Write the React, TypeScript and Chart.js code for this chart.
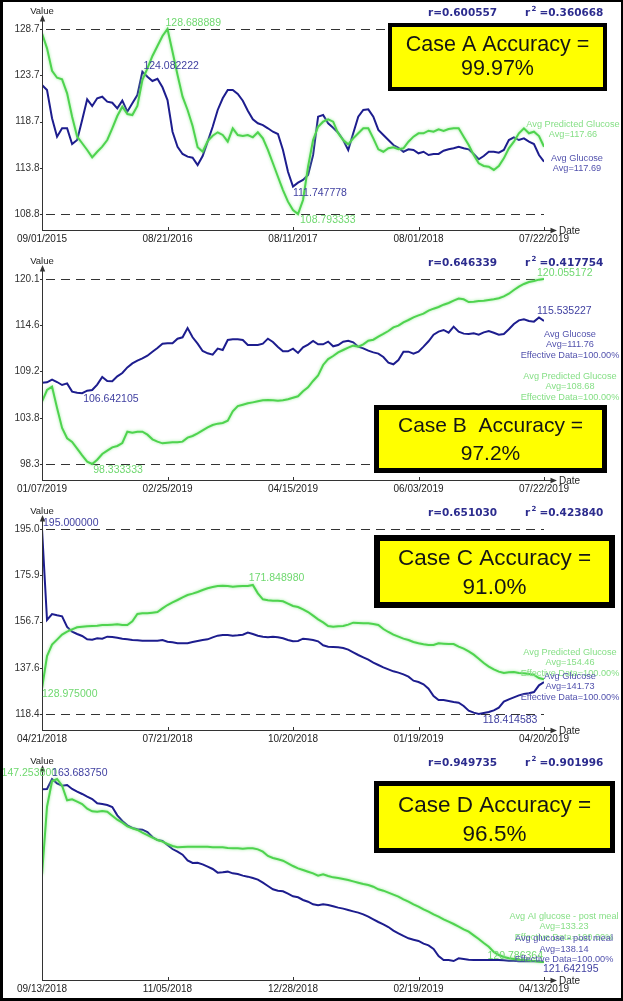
import React, { useEffect, useRef } from 'react';
import { Chart, registerables } from 'chart.js';

Chart.register(...registerables);
Chart.defaults.font.family = '"Liberation Sans", Arial, Helvetica, sans-serif';

// ---------------- DATA ----------------
const A_DATES = ['09/01/2015', '08/21/2016', '08/11/2017', '08/01/2018', '07/22/2019'];
const A_GLUCOSE = [
  122.67, 122.13, 119.09, 117.11, 118.01, 118.01, 116.32, 116.75, 118.9, 121.13,
  120.41, 121.24, 121.41, 120.87, 120.76, 120.16, 120.98, 119.8, 120.7, 121.59,
  124.082222, 123.56, 123.1, 123.34, 122.42, 121.05, 117.64, 116.03, 115.25, 114.96,
  114.85, 114.06, 115.03, 116.57, 118.18, 119.98, 121.24, 122.13, 122.13, 121.7,
  120.98, 119.9, 118.98, 118.55, 118.36, 118.01, 117.64, 117.4, 115.68, 113.34,
  111.747778, 112.16, 112.45, 112.99, 115.14, 119.26, 119.44, 118.55, 118.07, 117.54,
  116.75, 115.68, 117.47, 119.26, 119.98, 120.05, 119.26, 117.83, 117.29, 116.75,
  116.21, 115.92, 115.49, 115.75, 115.68, 115.32, 115.49, 115.14, 115.25, 115.25,
  115.6, 115.75, 115.86, 116.03, 115.86, 115.75, 115.25, 114.68, 115.03, 115.49,
  115.49, 115.39, 115.68, 116.75, 117.04, 116.75, 116.93, 116.57, 116.32, 115.14,
  114.42,
];
const A_PREDICTED = [
  128.23, 126.61, 124.2, 123.45, 123.28, 121.77, 119.26, 117.11, 116.4, 115.68,
  114.89, 115.49, 116.03, 116.75, 118.01, 119.33, 120.33, 119.55, 119.44, 120.41,
  123.2, 124.46, 125.79, 126.86, 127.94, 128.688889, 126.25, 123.74, 121.41, 119.98,
  118.26, 115.97, 115.49, 116.64, 117.21, 117.58, 117.29, 116.57, 118.01, 117.29,
  117.18, 117.29, 117.04, 117.58, 116.93, 115.68, 114.25, 112.8, 111.37, 110.12,
  109.22, 108.793333, 110.3, 113.88, 116.75, 118.18, 118.72, 118.98, 118.72, 117.47,
  116.75, 116.29, 116.93, 117.47, 118.01, 118.01, 116.93, 115.75, 115.49, 115.86,
  115.97, 115.75, 115.86, 116.57, 117.11, 117.47, 117.47, 117.75, 117.64, 117.9,
  117.72, 117.93, 118.01, 118.01, 117.11, 116.21, 115.14, 114.25, 113.96, 113.88,
  113.53, 113.96, 114.78, 115.86, 116.57, 117.47, 118.01, 117.47, 117.64, 117.18,
  116.03,
];
const A_STATS = ['0.600557', '0.360668'];
const A_CASE = ['Case A Accuracy =', '99.97%'];
const A_GLUCOSE_NOTE = ['Avg Glucose', 'Avg=117.69'];
const A_PREDICTED_NOTE = ['Avg Predicted Glucose', 'Avg=117.66'];

const B_DATES = ['01/07/2019', '02/25/2019', '04/15/2019', '06/03/2019', '07/22/2019'];
const B_GLUCOSE = [
  107.88, 107.92, 108.24, 107.96, 107.61, 107.8, 106.83, 106.71, 106.642105, 106.94,
  107.02, 107.65, 108.55, 108.08, 108.04, 108.63, 109.02, 109.68, 110.15, 110.47,
  110.74, 111.05, 111.52, 111.95, 112.46, 112.5, 112.5, 113.05, 113.21, 114.3,
  113.21, 112.46, 111.6, 111.33, 111.17, 111.88, 111.72, 112.89, 112.97, 112.97,
  112.89, 112.31, 112.31, 112.31, 112.46, 113.05, 112.66, 112.07, 111.56, 111.56,
  111.88, 111.37, 112.03, 112.35, 112.78, 112.38, 112.38, 112.7, 112.15, 112.31,
  112.7, 112.81, 112.62, 112.11, 111.91, 111.64, 111.44, 111.29, 110.9, 110.23,
  110.04, 110.54, 111.52, 111.52, 111.29, 111.52, 112.11, 112.74, 113.52, 113.87,
  114.07, 113.75, 114.46, 113.87, 113.64, 113.6, 113.68, 113.52, 113.79, 113.95,
  113.75, 113.52, 113.6, 114.15, 114.77, 115.2, 115.32, 115.12, 115.05, 115.535227,
  115.12,
];
const B_PREDICTED = [
  105.65, 107.02, 107.41, 104.91, 102.56, 101.35, 100.92, 100.13, 99.35, 98.61,
  98.333333, 98.84, 99.51, 99.9, 100.29, 100.45, 100.8, 102.13, 102.01, 102.13,
  102.13, 101.78, 101.23, 100.96, 100.76, 100.84, 100.88, 100.88, 100.96, 101.43,
  101.62, 101.93, 102.29, 102.64, 102.91, 103.07, 103.15, 103.42, 104.52, 105.14,
  105.3, 105.46, 105.57, 105.69, 105.81, 105.85, 105.81, 105.77, 105.81, 105.93,
  106.12, 106.28, 106.87, 107.34, 108.08, 108.74, 109.96, 110.66, 111.01, 111.44,
  111.72, 111.99, 112.23, 112.11, 112.38, 112.81, 112.93, 113.28, 113.6, 113.95,
  114.38, 114.58, 114.97, 115.24, 115.55, 115.79, 115.98, 116.34, 116.57, 116.77,
  117.04, 117.24, 117.51, 117.75, 117.67, 117.35, 117.39, 117.47, 117.51, 117.59,
  117.67, 117.79, 118.02, 118.33, 118.76, 119.16, 119.47, 119.7, 119.82, 119.98,
  120.055172,
];
const B_STATS = ['0.646339', '0.417754'];
const B_CASE = ['Case B  Accuracy =', '97.2%'];
const B_GLUCOSE_NOTE = ['Avg Glucose', 'Avg=111.76', 'Effective Data=100.00%'];
const B_PREDICTED_NOTE = ['Avg Predicted Glucose', 'Avg=108.68', 'Effective Data=100.00%'];

const C_DATES = ['04/21/2018', '07/21/2018', '10/20/2018', '01/19/2019', '04/20/2019'];
const C_GLUCOSE = [
  195.0, 157.33, 159.81, 159.26, 158.85, 154.43, 152.5, 151.53, 150.71, 149.33,
  149.19, 149.74, 149.6, 150.43, 150.29, 150.02, 149.6, 149.33, 149.05, 148.91,
  148.77, 148.77, 148.77, 148.77, 149.05, 148.36, 148.08, 147.67, 147.67, 147.67,
  148.22, 148.64, 149.05, 149.33, 150.15, 150.84, 151.12, 151.12, 150.84, 150.98,
  151.26, 152.09, 151.53, 150.84, 150.43, 150.15, 150.43, 150.15, 149.74, 149.05,
  148.5, 148.64, 149.6, 149.33, 149.05, 148.5, 146.84, 146.29, 146.15, 146.01,
  145.74, 145.05, 143.94, 142.84, 141.87, 140.91, 139.67, 138.7, 137.73, 136.91,
  136.08, 135.53, 134.84, 133.87, 132.21, 131.66, 130.7, 128.9, 125.87, 124.21,
  124.21, 123.8, 123.38, 123.11, 121.73, 119.8, 118.97, 118.414583, 118.83, 119.24,
  119.93, 121.04, 123.52, 124.49, 125.32, 126.14, 126.7, 126.97, 127.52, 130.28,
  131.66,
];
const C_PREDICTED = [
  128.975, 142.43, 147.12, 149.19, 151.26, 152.5, 153.47, 154.29, 154.57, 154.71,
  154.85, 154.98, 155.26, 155.26, 155.4, 155.54, 155.26, 155.26, 156.78, 159.81,
  160.09, 160.09, 160.36, 160.64, 162.16, 163.54, 164.64, 165.61, 166.71, 167.68,
  168.23, 168.92, 169.75, 170.44, 170.99, 171.4, 171.54, 171.4, 171.13, 171.27,
  171.4, 171.4, 171.84898, 168.37, 165.88, 165.47, 165.33, 165.33, 165.06, 164.09,
  163.12, 162.71, 161.74, 160.64, 159.12, 157.6, 156.36, 154.85, 154.57, 154.71,
  154.85, 155.4, 156.22, 156.09, 155.95, 155.95, 155.67, 155.26, 153.6, 152.36,
  151.26, 150.43, 149.6, 149.05, 148.22, 147.67, 147.26, 146.98, 146.98, 147.67,
  147.53, 147.39, 147.39, 146.29, 145.46, 144.36, 142.98, 141.32, 139.53, 138.01,
  136.91, 135.94, 135.39, 135.66, 135.8, 135.39, 135.25, 134.97, 134.56, 133.32,
  132.77,
];
const C_STATS = ['0.651030', '0.423840'];
const C_CASE = ['Case C Accuracy =', '91.0%'];
const C_GLUCOSE_NOTE = ['Avg Glucose', 'Avg=141.73', 'Effective Data=100.00%'];
const C_PREDICTED_NOTE = ['Avg Predicted Glucose', 'Avg=154.46', 'Effective Data=100.00%'];

const D_DATES = ['09/13/2018', '11/05/2018', '12/28/2018', '02/19/2019', '04/13/2019'];
const D_GLUCOSE = [
  161.31, 161.39, 163.68375, 162.69, 162.15, 162.31, 161.39, 160.77, 160.24, 159.63,
  159.09, 158.09, 157.94, 157.71, 157.25, 155.34, 154.04, 153.04, 152.43, 152.12,
  152.04, 151.51, 150.36, 149.67, 149.44, 148.52, 147.6, 146.99, 146.3, 145.0,
  144.39, 144.46, 144.08, 143.54, 143.01, 142.17, 142.24, 142.4, 142.01, 141.86,
  141.48, 141.25, 140.94, 140.56, 139.87, 139.1, 138.34, 138.03, 137.88, 137.34,
  136.73, 136.5, 135.89, 135.5, 134.89, 134.66, 134.89, 134.74, 134.43, 134.13,
  133.9, 133.59, 133.28, 132.98, 132.59, 132.06, 131.44, 130.83, 130.3, 129.68,
  128.84, 128.23, 127.62, 127.08, 126.77, 126.47, 125.85, 125.47, 124.63, 123.02,
  122.1, 122.1, 121.87, 122.49, 122.33, 122.18, 122.1, 122.1, 122.1, 122.1,
  122.1, 122.1, 122.03, 121.95, 121.95, 121.8, 121.8, 121.8, 121.8, 121.8,
  121.642195,
];
const D_PREDICTED = [
  133.37, 143.25, 146.92, 147.2538, 146.29, 144.17, 144.31, 143.98, 143.64, 142.96,
  142.58, 142.53, 142.63, 142.53, 141.95, 141.37, 140.94, 140.41, 140.12, 139.88,
  139.49, 139.15, 138.77, 138.43, 138.19, 137.85, 137.56, 137.37, 137.42, 137.47,
  137.47, 137.47, 137.47, 137.47, 137.37, 137.37, 137.37, 137.27, 137.23, 137.23,
  137.18, 137.23, 137.23, 137.08, 136.74, 136.12, 135.83, 135.64, 135.44, 135.06,
  134.67, 134.33, 134.09, 133.85, 133.61, 133.27, 133.47, 133.23, 133.03, 132.94,
  132.79, 132.65, 132.45, 132.26, 132.07, 131.92, 131.68, 131.3, 131.1, 130.81,
  130.53, 130.24, 129.85, 129.51, 129.13, 128.79, 128.4, 128.07, 127.68, 127.34,
  126.96, 126.62, 126.28, 125.9, 125.51, 125.17, 124.64, 124.11, 123.53, 123.0,
  122.23, 121.8, 121.51, 121.32, 121.22, 121.12, 121.08, 120.98, 120.93, 120.83,
  120.786364,
];
const D_STATS = ['0.949735', '0.901996'];
const D_CASE = ['Case D Accuracy =', '96.5%'];
const D_GLUCOSE_NOTE = ['Avg glucose - post meal', 'Avg=138.14', 'Effective Data=100.00%'];
const D_PREDICTED_NOTE = ['Avg AI glucose - post meal', 'Avg=133.23', 'Effective Data=100.00%'];

// ---------------- STYLE / LAYOUT ----------------
const BLUE = '#1d1d8e';
const GREEN = '#4fd34f';
const GREEN_GLOW = 'rgba(140,235,140,0.9)';
const BLUE_TEXT = '#3f3fa0';
const GREEN_TEXT = '#6fd86f';
const NOTE_BLUE = '#5252ad';
const NOTE_GREEN = '#86df86';
const STAT_COLOR = '#2c2c8e';
const AXIS = '#333333';
const SANS = '"Liberation Sans", Arial, Helvetica, sans-serif';
const W = 623;
const AREA_TOP = 20;
const AREA_BOTTOM = 230;
const AREA_LEFT = 42;
const AREA_RIGHT = 544;

type Lbl = { kind: 'max' | 'min'; align: CanvasTextAlign; dx: number; dy: number };
type Note = { lines: string[]; cx: number; y: number };
type Box = { x: number; y: number; w: number; h: number; border: number; font: number; text: string[]; ly: number[] };
type Panel = {
  id: string;
  top: number;
  height: number;
  dates: string[];
  glucose: number[];
  predicted: number[];
  separate: boolean;
  maxPx: number;
  minPx: number;
  glucoseLabels: Lbl[];
  predictedLabels: Lbl[];
  glucoseNote: Note;
  predictedNote: Note;
  stats: string[];
  box: Box;
};

const PANELS: Panel[] = [
  {
    id: 'A', top: 0, height: 250, dates: A_DATES, glucose: A_GLUCOSE, predicted: A_PREDICTED,
    separate: false, maxPx: 29, minPx: 214,
    glucoseLabels: [
      { kind: 'max', align: 'left', dx: 1, dy: -5.5 },
      { kind: 'min', align: 'left', dx: 0, dy: 7 },
    ],
    predictedLabels: [
      { kind: 'max', align: 'left', dx: -2, dy: -5.5 },
      { kind: 'min', align: 'left', dx: 2, dy: 6 },
    ],
    glucoseNote: { lines: A_GLUCOSE_NOTE, cx: 577, y: 158 },
    predictedNote: { lines: A_PREDICTED_NOTE, cx: 573, y: 124 },
    stats: A_STATS,
    box: { x: 388, y: 23, w: 219, h: 68, border: 4, font: 21.5, text: A_CASE, ly: [45.5, 69.5] },
  },
  {
    id: 'B', top: 250, height: 250, dates: B_DATES, glucose: B_GLUCOSE, predicted: B_PREDICTED,
    separate: false, maxPx: 29, minPx: 214,
    glucoseLabels: [
      { kind: 'max', align: 'left', dx: -2, dy: -6 },
      { kind: 'min', align: 'left', dx: 1, dy: 6 },
    ],
    predictedLabels: [
      { kind: 'max', align: 'left', dx: -7, dy: -6 },
      { kind: 'min', align: 'left', dx: 1, dy: 6 },
    ],
    glucoseNote: { lines: B_GLUCOSE_NOTE, cx: 570, y: 84 },
    predictedNote: { lines: B_PREDICTED_NOTE, cx: 570, y: 126 },
    stats: B_STATS,
    box: { x: 374, y: 155, w: 233, h: 68, border: 5, font: 21, text: B_CASE, ly: [176.5, 204.5] },
  },
  {
    id: 'C', top: 500, height: 250, dates: C_DATES, glucose: C_GLUCOSE, predicted: C_PREDICTED,
    separate: false, maxPx: 29, minPx: 214,
    glucoseLabels: [
      { kind: 'max', align: 'left', dx: 1, dy: -6 },
      { kind: 'min', align: 'left', dx: 4, dy: 6 },
    ],
    predictedLabels: [
      { kind: 'max', align: 'left', dx: -4, dy: -6.5 },
      { kind: 'min', align: 'left', dx: 0, dy: 6 },
    ],
    glucoseNote: { lines: C_GLUCOSE_NOTE, cx: 570, y: 176 },
    predictedNote: { lines: C_PREDICTED_NOTE, cx: 570, y: 152 },
    stats: C_STATS,
    box: { x: 374, y: 35, w: 241, h: 73, border: 6, font: 22.5, text: C_CASE, ly: [59, 88] },
  },
  {
    id: 'D', top: 750, height: 251, dates: D_DATES, glucose: D_GLUCOSE, predicted: D_PREDICTED,
    separate: true, maxPx: 29, minPx: 212,
    glucoseLabels: [
      { kind: 'max', align: 'left', dx: 0, dy: -6 },
      { kind: 'min', align: 'left', dx: -1, dy: 7 },
    ],
    predictedLabels: [
      { kind: 'max', align: 'right', dx: 0, dy: -6 },
      { kind: 'min', align: 'right', dx: -1, dy: -6 },
    ],
    glucoseNote: { lines: D_GLUCOSE_NOTE, cx: 564, y: 188.5 },
    predictedNote: { lines: D_PREDICTED_NOTE, cx: 564, y: 166 },
    stats: D_STATS,
    box: { x: 374, y: 31, w: 241, h: 72, border: 5, font: 22.5, text: D_CASE, ly: [55.5, 84.5] },
  },
];

function yRange(values: number[], maxPx: number, minPx: number) {
  const lo = Math.min(...values);
  const hi = Math.max(...values);
  const per = (hi - lo) / (minPx - maxPx);
  return { lo, hi, min: lo - (AREA_BOTTOM - minPx) * per, max: hi + (maxPx - AREA_TOP) * per };
}

function extremeIndex(values: number[], kind: 'max' | 'min') {
  let best = 0;
  values.forEach((v, i) => {
    if (kind === 'max' ? v > values[best] : v < values[best]) best = i;
  });
  return best;
}

function makeOverlay(p: Panel, ranges: { lo: number; hi: number }) {
  return {
    id: 'overlay' + p.id,
    beforeDatasetsDraw(chart: any) {
      if (p.separate) return;
      const ctx = chart.ctx as CanvasRenderingContext2D;
      const { left, right } = chart.chartArea;
      const ys = chart.scales.y;
      ctx.save();
      ctx.strokeStyle = AXIS;
      ctx.lineWidth = 1;
      ctx.setLineDash([9, 6]);
      [ranges.hi, ranges.lo].forEach((v) => {
        const y = Math.round(ys.getPixelForValue(v)) + 0.5;
        ctx.beginPath();
        ctx.moveTo(left + 4, y);
        ctx.lineTo(right, y);
        ctx.stroke();
      });
      ctx.restore();
    },
    beforeDatasetDraw(chart: any, args: any) {
      if (args.index === 0) {
        const ctx = chart.ctx as CanvasRenderingContext2D;
        ctx.save();
        ctx.shadowColor = GREEN_GLOW;
        ctx.shadowBlur = 3;
      }
    },
    afterDatasetDraw(chart: any, args: any) {
      if (args.index === 0) chart.ctx.restore();
    },
    afterDraw(chart: any) {
      const ctx = chart.ctx as CanvasRenderingContext2D;
      const { left, right, top, bottom } = chart.chartArea;
      const xs = chart.scales.x;
      ctx.save();
      // axes
      ctx.strokeStyle = AXIS;
      ctx.fillStyle = AXIS;
      ctx.lineWidth = 1;
      ctx.setLineDash([]);
      ctx.beginPath();
      ctx.moveTo(left + 0.5, bottom + 0.5);
      ctx.lineTo(left + 0.5, top - 1);
      ctx.moveTo(left, bottom + 0.5);
      ctx.lineTo(right + 7, bottom + 0.5);
      ctx.stroke();
      ctx.beginPath();
      ctx.moveTo(left + 0.5, top - 5);
      ctx.lineTo(left - 2.2, top + 1.5);
      ctx.lineTo(left + 3.2, top + 1.5);
      ctx.closePath();
      ctx.fill();
      ctx.beginPath();
      ctx.moveTo(right + 13, bottom + 0.5);
      ctx.lineTo(right + 6.5, bottom - 2.2);
      ctx.lineTo(right + 6.5, bottom + 3.2);
      ctx.closePath();
      ctx.fill();
      // tick marks
      ctx.beginPath();
      p.dates.forEach((_, i) => {
        if (i === 0) return;
        const x = Math.round(xs.getPixelForValue(i)) + 0.5;
        ctx.moveTo(x, bottom - 3);
        ctx.lineTo(x, bottom);
      });
      if (!p.separate) {
        const ys = chart.scales.y;
        ys.ticks.forEach((t: any) => {
          const y = Math.round(ys.getPixelForValue(t.value)) + 0.5;
          ctx.moveTo(left - 2, y);
          ctx.lineTo(left + 1, y);
        });
      }
      ctx.stroke();
      // axis titles
      ctx.fillStyle = '#222';
      ctx.font = `9.5px ${SANS}`;
      ctx.textAlign = 'center';
      ctx.textBaseline = 'middle';
      ctx.fillText('Value', left, 11.5);
      ctx.font = `10px ${SANS}`;
      ctx.textAlign = 'left';
      ctx.fillText('Date', right + 15, bottom + 1);

      // extreme value labels
      const n = p.glucose.length;
      const xOf = (i: number) => xs.getPixelForValue((i / (n - 1)) * (p.dates.length - 1));
      const drawLabels = (values: number[], labels: Lbl[], scaleId: string, color: string) => {
        const sc = chart.scales[scaleId];
        ctx.fillStyle = color;
        ctx.font = `10.5px ${SANS}`;
        ctx.textBaseline = 'middle';
        labels.forEach((l) => {
          const i = extremeIndex(values, l.kind);
          ctx.textAlign = l.align;
          ctx.fillText(values[i].toFixed(6), xOf(i) + l.dx, sc.getPixelForValue(values[i]) + l.dy);
        });
      };
      drawLabels(p.predicted, p.predictedLabels, p.separate ? 'y2' : 'y', GREEN_TEXT);
      drawLabels(p.glucose, p.glucoseLabels, 'y', BLUE_TEXT);

      // notes
      const drawNote = (note: Note, color: string) => {
        ctx.fillStyle = color;
        ctx.font = `9.2px ${SANS}`;
        ctx.textAlign = 'center';
        ctx.textBaseline = 'middle';
        note.lines.forEach((t, k) => ctx.fillText(t, note.cx, note.y + k * 10.5));
      };
      drawNote(p.predictedNote, NOTE_GREEN);
      drawNote(p.glucoseNote, NOTE_BLUE);

      // r statistics
      ctx.fillStyle = STAT_COLOR;
      ctx.textAlign = 'left';
      ctx.textBaseline = 'middle';
      ctx.font = 'bold 10.5px "DejaVu Sans", sans-serif';
      ctx.fillText('r=' + p.stats[0], 428, 13.5);
      ctx.fillText('r', 525, 13.5);
      ctx.fillText('=' + p.stats[1], 539.5, 13.5);
      ctx.font = 'bold 7px "DejaVu Sans", sans-serif';
      ctx.fillText('2', 531.5, 9);

      // accuracy box
      const b = p.box;
      ctx.fillStyle = '#000';
      ctx.fillRect(b.x, b.y, b.w, b.h);
      ctx.fillStyle = '#ffff00';
      ctx.fillRect(b.x + b.border, b.y + b.border, b.w - 2 * b.border, b.h - 2 * b.border);
      ctx.fillStyle = '#151515';
      ctx.font = `${b.font}px ${SANS}`;
      ctx.textAlign = 'center';
      ctx.textBaseline = 'middle';
      b.text.forEach((t, k) => ctx.fillText(t, b.x + b.w / 2, b.ly[k]));
      ctx.restore();
    },
  };
}

function buildConfig(p: Panel): any {
  const n = p.glucose.length;
  const last = p.dates.length - 1;
  const toPoints = (arr: number[]) => arr.map((v, i) => ({ x: (i / (n - 1)) * last, y: v }));
  const both = yRange([...p.glucose, ...p.predicted], p.maxPx, p.minPx);
  const blue = p.separate ? yRange(p.glucose, p.maxPx, p.minPx) : both;
  const green = p.separate ? yRange(p.predicted, p.maxPx, p.minPx) : both;

  const scales: any = {
    x: {
      type: 'linear',
      min: 0,
      max: last,
      grid: { display: false, drawTicks: false },
      border: { display: false },
      afterBuildTicks: (s: any) => {
        s.ticks = p.dates.map((_, i) => ({ value: i }));
      },
      afterFit: (s: any) => {
        s.height = p.height - AREA_BOTTOM;
      },
      ticks: {
        autoSkip: false,
        maxRotation: 0,
        minRotation: 0,
        padding: 3,
        color: '#222',
        font: { size: 10 },
        callback: (_v: any, i: number) => p.dates[i],
      },
    },
    y: {
      type: 'linear',
      position: 'left',
      min: blue.min,
      max: blue.max,
      grid: { display: false, drawTicks: false },
      border: { display: false },
      afterBuildTicks: (s: any) => {
        s.ticks = [0, 1, 2, 3, 4].map((k) => ({ value: blue.lo + (k * (blue.hi - blue.lo)) / 4 }));
      },
      afterFit: (s: any) => {
        s.width = AREA_LEFT;
      },
      ticks: {
        display: !p.separate,
        padding: 2.5,
        color: '#333',
        font: { size: 10 },
        callback: (v: any) => Number(v).toFixed(1),
      },
    },
  };
  if (p.separate) {
    scales.y2 = { type: 'linear', display: false, min: green.min, max: green.max };
  }

  return {
    type: 'line',
    data: {
      datasets: [
        {
          label: 'Predicted',
          data: toPoints(p.predicted),
          borderColor: GREEN,
          borderWidth: 2,
          pointRadius: 0,
          tension: 0,
          fill: false,
          yAxisID: p.separate ? 'y2' : 'y',
        },
        {
          label: 'Glucose',
          data: toPoints(p.glucose),
          borderColor: BLUE,
          borderWidth: 2,
          pointRadius: 0,
          tension: 0,
          fill: false,
          yAxisID: 'y',
        },
      ],
    },
    options: {
      animation: false,
      responsive: false,
      maintainAspectRatio: false,
      devicePixelRatio: 1,
      events: [],
      layout: { padding: { left: 0, right: W - AREA_RIGHT, top: AREA_TOP, bottom: 0 } },
      plugins: { legend: { display: false }, tooltip: { enabled: false }, title: { display: false } },
      scales,
    },
    plugins: [makeOverlay(p, both)],
  };
}

function PanelChart({ panel }: { panel: Panel }) {
  const ref = useRef<HTMLCanvasElement | null>(null);
  useEffect(() => {
    if (!ref.current) return;
    const chart = new Chart(ref.current, buildConfig(panel));
    return () => chart.destroy();
  }, [panel]);
  return (
    <canvas
      ref={ref}
      width={W}
      height={panel.height}
      style={{ position: 'absolute', left: 0, top: panel.top, width: W, height: panel.height, display: 'block' }}
    />
  );
}

export default function App() {
  return (
    <div style={{ position: 'absolute', left: 0, top: 0, width: W, height: 1001, background: '#fff', overflow: 'hidden' }}>
      {PANELS.map((p) => (
        <PanelChart key={p.id} panel={p} />
      ))}
      <div
        style={{
          position: 'absolute',
          left: 0,
          top: 0,
          width: W,
          height: 1001,
          boxSizing: 'border-box',
          borderStyle: 'solid',
          borderColor: '#000',
          borderWidth: '2px 2px 3px 3px',
          pointerEvents: 'none',
        }}
      />
    </div>
  );
}
